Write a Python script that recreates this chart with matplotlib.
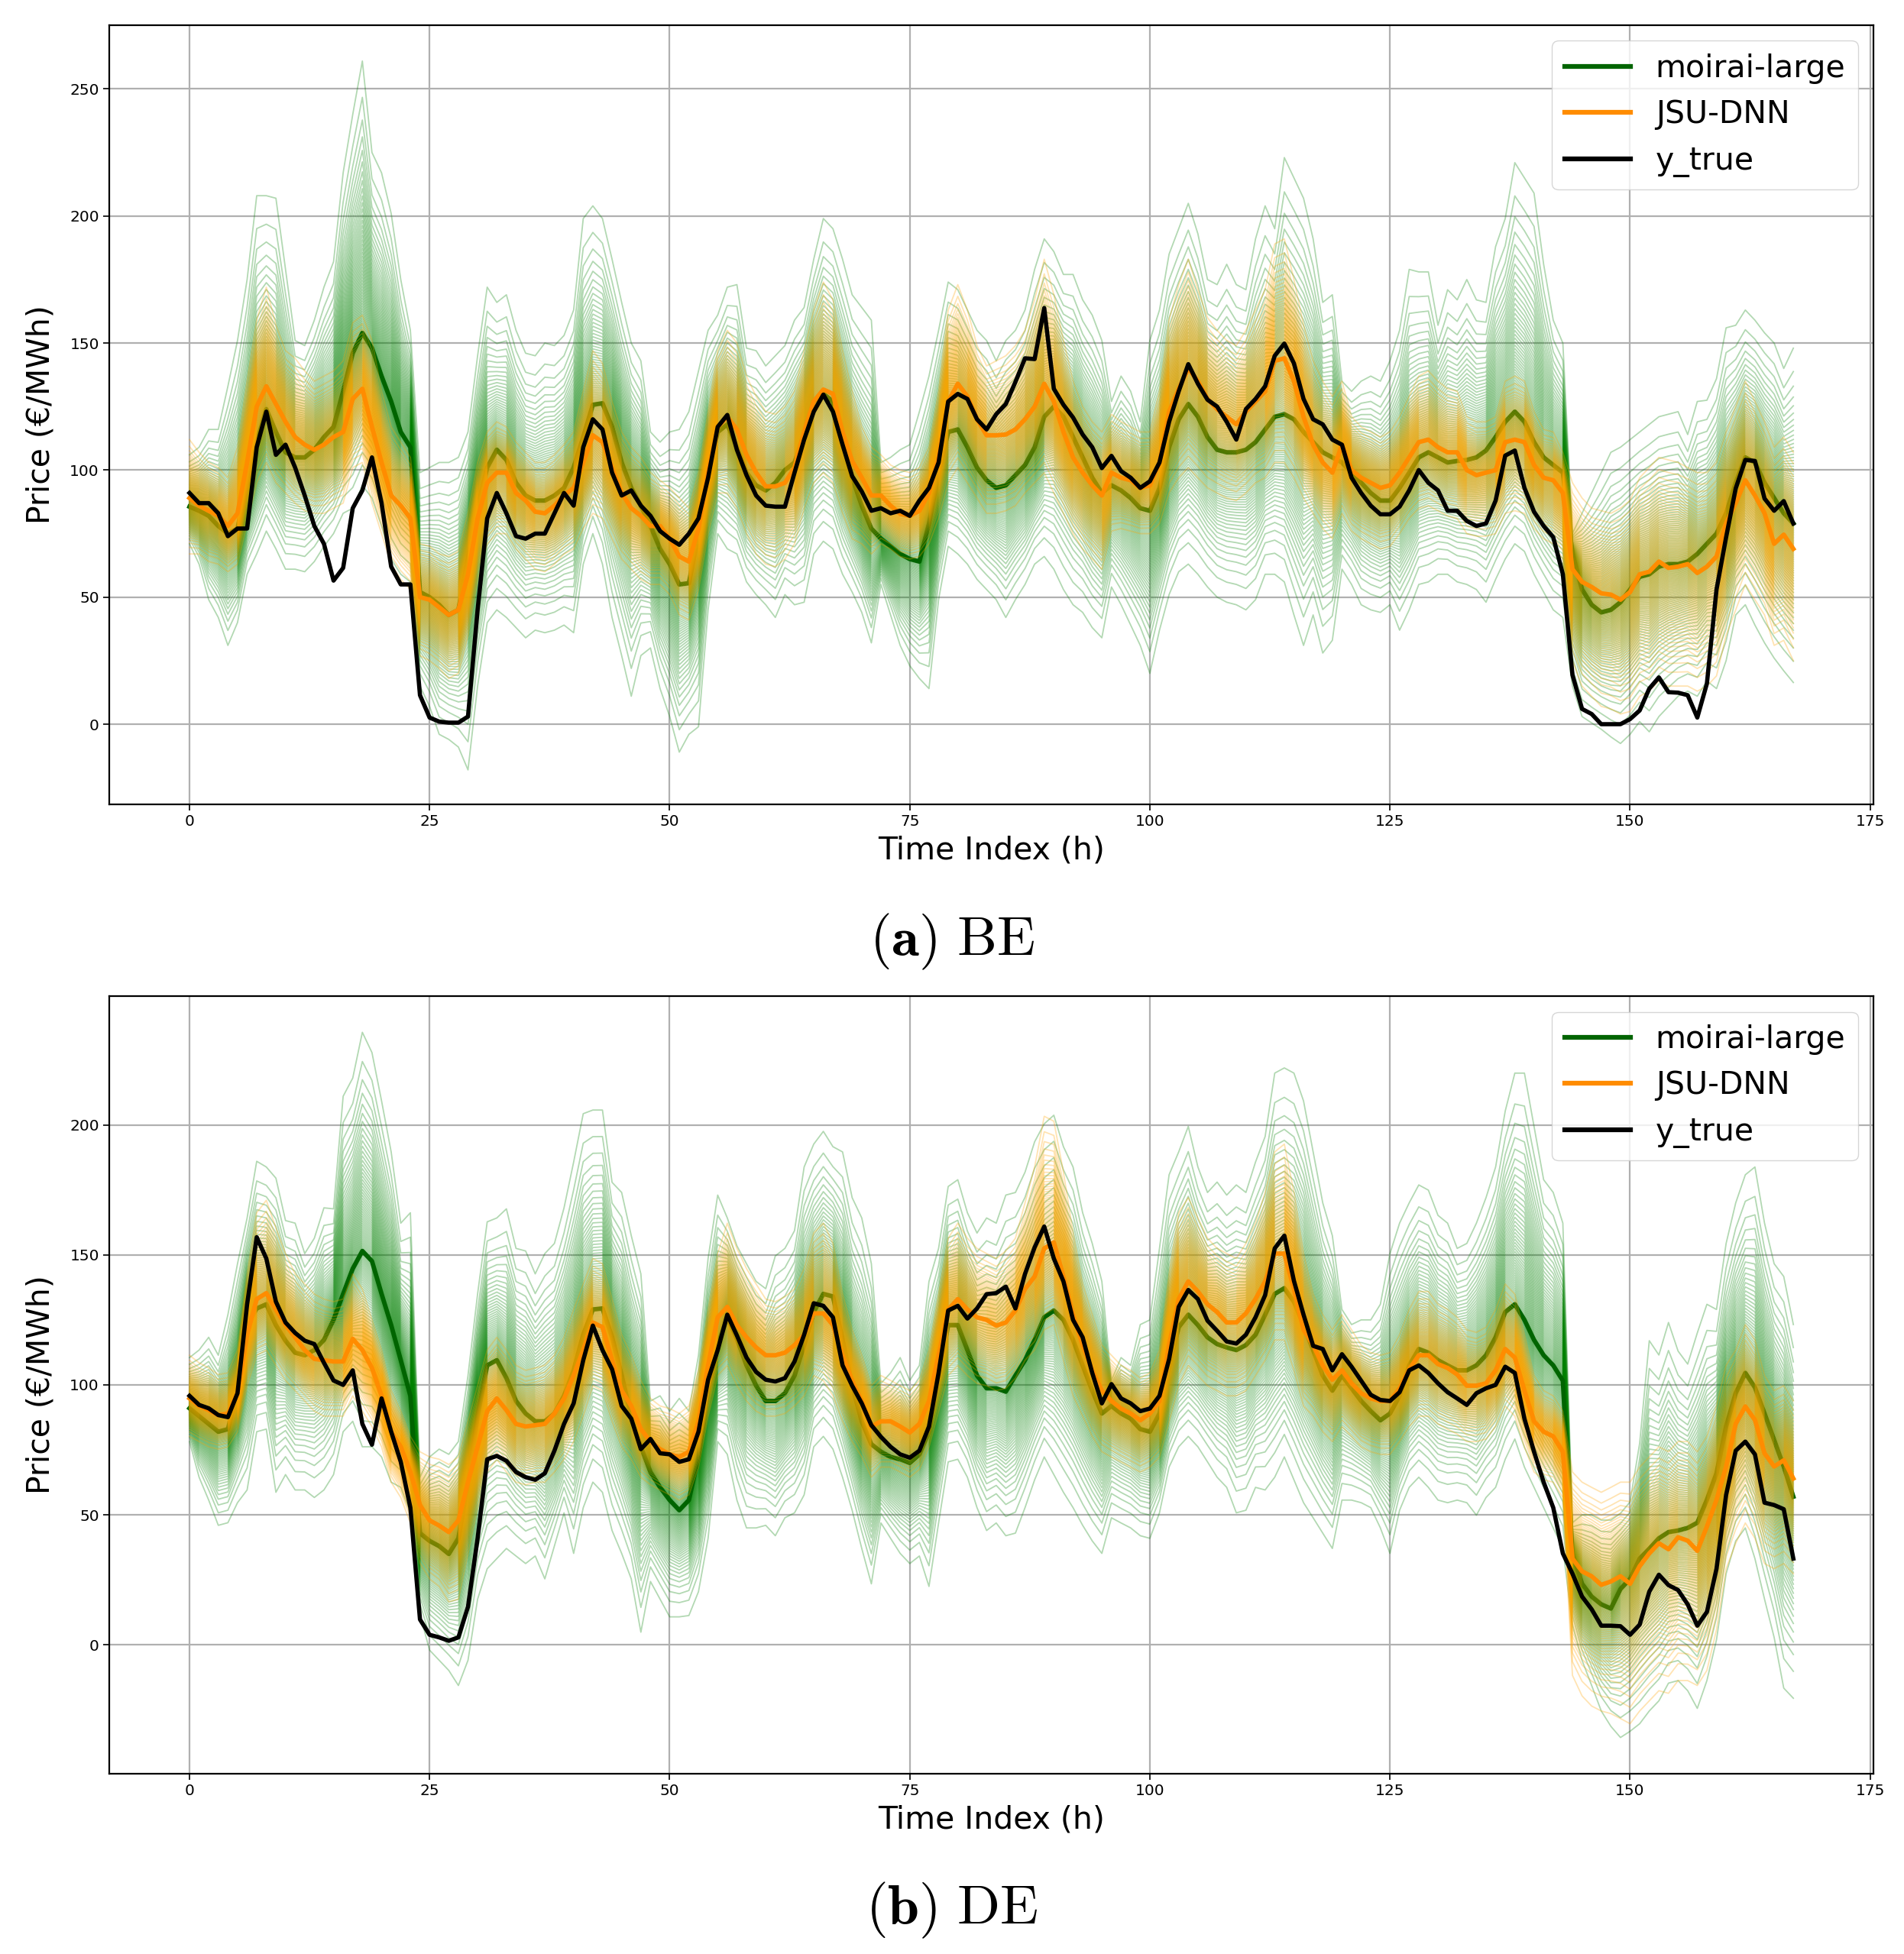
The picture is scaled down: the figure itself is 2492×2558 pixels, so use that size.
import numpy as np
import matplotlib
matplotlib.use("Agg")
import matplotlib.pyplot as plt
from statistics import NormalDist

plt.rcParams["mathtext.fontset"] = "cm"

hours = np.arange(168)

# ---------------- BE ----------------
be_true = [91, 87, 87, 83, 74, 77, 77, 109, 123, 106,
           110, 101, 90, 78, 71, 56.5, 61.5, 85, 92, 105,
           87, 62, 55, 55, 11.4, 2.6, 1, 0.6, 0.6, 3,
           45, 81, 91, 83, 74, 73, 75, 75, 83, 91,
           86, 109, 120, 116, 99, 90, 92, 86, 82, 76,
           73, 70.6, 75, 81, 97, 117, 121.7, 108, 98, 90,
           86, 85.6, 85.6, 99, 112, 123, 129.7, 123, 110, 97.6,
           91.6, 84, 85, 83, 84, 82, 88, 93, 103, 127,
           130, 128, 120, 116, 122, 126, 134.7, 144, 143.7, 163.8,
           132, 125.7, 120.7, 114, 109, 100.8, 105.6, 99.6, 97, 93,
           95.6, 103, 119, 131, 141.7, 134, 127.7, 125, 119, 112,
           124, 128, 133, 145, 149.8, 142, 128, 120, 118, 112,
           110, 97, 91, 86, 82.6, 82.6, 85.6, 92, 100, 95,
           92, 84, 84, 80, 78, 79, 88, 105.7, 107.7, 93,
           83.6, 78, 73.6, 59, 19.4, 6, 4, 0, 0, 0,
           2, 5.4, 14, 18.4, 12.6, 12.4, 11.4, 2.6, 16, 53,
           73.6, 92.8, 104, 103.6, 88.8, 84, 87.8, 79]

be_moirai_med = [85.6, 84, 82, 78, 75, 77, 95, 111, 124, 115,
                 107, 105, 105, 108, 113, 117, 131, 146, 154, 148,
                 137, 127, 115, 109, 52, 50, 47, 43, 45, 65,
                 85, 101, 108, 104, 95, 90, 88, 88, 90, 93,
                 101, 113, 125.7, 126.3, 117, 103, 93, 86, 78, 69,
                 63, 55, 55.5, 75, 99, 115, 118, 109, 99, 94,
                 92, 95, 100, 103, 114, 127, 130, 127, 111, 97,
                 86, 77, 73, 70, 67, 65, 64, 79, 99, 115,
                 116, 109, 101, 96, 93, 94, 98, 102, 109, 121,
                 125, 121, 113, 105, 97, 91, 94, 92, 89, 85,
                 84, 93, 109, 120, 126, 121, 113, 108, 107, 107,
                 108, 111, 116, 121, 122, 120, 115, 111, 107, 105,
                 103, 99, 95, 91, 88, 88, 93, 99, 105, 107,
                 105, 103, 103.6, 104, 105, 107.7, 113, 119, 123, 119,
                 111, 105, 102, 99, 67, 53, 47, 44, 45, 48,
                 53, 58, 59, 62, 63, 63, 64, 67, 71, 75,
                 83, 95, 105, 103, 95, 89, 83, 79]

be_moirai_hi = [106, 109, 116, 116, 133, 151, 175, 208, 208, 207,
                179, 151, 149, 159, 172, 182, 217, 240, 261, 225,
                217, 201, 175, 155, 99, 101, 103, 103, 105, 115,
                145, 172, 166, 169, 155, 146, 145, 150, 149, 153,
                163, 199, 204, 199, 183, 166, 150, 143, 115, 111,
                115, 116, 123, 139, 155, 161, 172, 173, 148, 147,
                141, 145, 149, 159, 164, 183, 199, 195, 183, 169,
                164, 159, 103, 105, 108, 110, 123, 137, 155, 174,
                171, 163, 155, 151, 143, 151, 155, 163, 179, 191,
                186, 177, 177, 167, 161, 151, 127, 137, 131, 119,
                151, 163, 185, 195, 205, 193, 175, 173, 181, 173,
                171, 191, 204, 195, 223, 215, 207, 191, 166, 169,
                135, 131, 135, 137, 135, 143, 155, 179, 178, 178,
                157, 171, 167, 175, 167, 166, 188, 199, 221, 215,
                209, 181, 159, 150, 75, 83, 91, 99, 107, 109,
                112, 115, 118, 121, 122, 123, 114, 127, 127.5, 136,
                156, 157, 163, 159, 154, 150, 140, 148]

be_moirai_lo = [71, 63, 49, 42, 31, 40, 59, 67, 76, 69,
                61, 61, 60, 64, 70, 75, 83, 85, 94, 89,
                78, 65, 59, 56, 15, 7, -4, -6, -9, -18,
                15, 40, 45, 42, 38, 34, 37, 36, 37, 39,
                36, 63, 75, 63, 42, 27, 11, 27, 30, 14,
                3, -11, -4, -1, 45, 75, 69, 67, 56, 51,
                47, 42, 51, 47, 48, 67, 72, 69, 59, 52,
                44, 32, 55, 43, 31, 23, 18, 14, 49, 70,
                67, 63, 57, 53, 49, 42, 49, 55, 63, 66,
                61, 53, 47, 44, 38, 34, 54, 47, 39, 31,
                20, 37, 51, 60, 63, 59, 54, 50, 48, 47,
                45, 49, 59, 59, 56, 43, 31, 43, 28, 33,
                61, 55, 47, 45, 44, 47, 37, 45, 55, 56,
                59, 59, 56, 55, 53, 48, 57, 65, 71, 68,
                59, 52, 45, 42, 15, 3, 0.5, -2, -5, -7.6,
                -4, 1, -3, 3, 7, 11, 13, 11, 17, 14,
                25, 43, 47, 39, 32, 26, 21, 16.4]

be_jsu_med = [89, 86, 84, 82, 78, 83, 103, 125, 133, 126,
              119, 113, 110, 108, 110, 113, 115, 128, 132, 117,
              103, 90, 86, 81, 50, 49, 46, 43, 45, 59,
              81, 95, 99, 99, 91, 88, 83.6, 83, 86, 90,
              93, 103, 113.7, 111, 101, 91, 85, 82, 78, 78,
              73, 66, 64, 77, 99, 117, 121, 116, 106, 99,
              93.6, 93.6, 95, 101, 115, 127, 131.7, 130, 115, 103.6,
              97, 90, 90, 86, 82.8, 82, 84, 91, 105, 127,
              134, 129, 120, 113.7, 113.7, 114, 116, 120, 125, 134,
              127, 115, 105, 99, 94, 90, 99, 97, 96, 93,
              94, 103, 123, 132, 140, 135, 128, 124, 121, 118,
              123, 127, 131, 143, 144, 135, 121, 110, 103, 99,
              110, 100, 97, 95, 93, 94, 99, 105, 111, 112,
              109, 107, 107, 100, 98, 99, 100, 111, 112, 111,
              102, 97, 96, 91, 61, 56, 54, 51.5, 51, 49,
              52, 59, 60, 64, 61.5, 62, 63, 59.5, 62, 66,
              79, 87, 96, 90, 83, 71, 74.6, 69]

be_jsu_hi = [112, 107, 103, 101, 97, 109, 135, 159, 172, 157,
             147, 144, 139, 135, 137, 139, 143, 158, 161, 151,
             131, 117, 111, 105, 71, 70, 67, 66, 68, 83,
             103, 115, 119, 117, 111, 107, 103, 103, 106, 110,
             115, 131, 147, 142, 127, 115, 109, 105, 99, 96,
             93, 89, 85, 99, 123, 147, 155, 150, 137, 129,
             123, 122, 125, 131, 147, 163, 174, 167, 147, 131,
             117, 109, 106, 102, 100, 99, 101, 109, 131, 163,
             173, 163, 149, 141, 143, 145, 149, 155, 167, 183,
             169, 151, 135, 125, 119, 115, 122, 119, 117, 115,
             115, 131, 159, 173, 183, 171, 160, 155, 151, 149,
             155, 163, 171, 189, 191, 175, 157, 143, 135, 129,
             135, 121, 117, 115, 113, 115, 121, 129, 137, 139,
             135, 132, 131, 121, 119, 119, 121, 135, 137, 135,
             123, 116, 115, 107, 95, 89, 85, 84, 83, 85,
             88, 97, 101, 105, 104, 103, 101, 99, 99, 103,
             115, 125, 135, 127, 119, 109, 113, 107]

be_jsu_lo = [67, 67, 64, 63, 60, 63, 79, 95, 103, 95,
             91, 87, 84, 83, 83, 85, 87, 101, 103, 87,
             75, 63, 57, 53, 27, 25, 22, 18, 20, 35,
             57, 71, 75, 75, 69, 65, 61, 60, 63, 67,
             69, 77, 83, 81, 73, 65, 61, 57, 55, 55,
             51, 43, 41, 53, 75, 91, 91, 85, 75, 67,
             63, 62, 65, 71, 85, 95, 99, 95, 83, 73,
             71, 67, 71, 69, 66, 65, 66, 71, 81, 95,
             101, 95, 89, 83, 83, 84, 86, 91, 95, 99,
             91, 83, 75, 69, 65, 61, 76, 77, 76, 75,
             75, 79, 91, 97, 101, 97, 93, 91, 89, 88,
             91, 95, 97, 103, 103, 97, 89, 83, 77, 73,
             83, 76, 73, 71, 69, 70, 75, 81, 85, 86,
             84, 82, 81, 75, 74, 74, 75, 83, 84, 83,
             77, 73, 71, 65, 25, 15, 11, 7, 6, 4,
             5, 11, 13, 17, 15, 15, 15, 13, 15, 19,
             35, 45, 55, 49, 43, 31, 33, 25]

# ---------------- DE ----------------
de_true = [95.8, 92.3, 91, 88.4, 87.6, 96.8, 131, 156.8, 148.6, 132,
           124, 120, 117, 115.7, 108.5, 101.7, 100, 105.6, 85, 77,
           94.8, 82, 70.4, 52.8, 9.8, 3.9, 2.9, 1.6, 2.9, 14.7,
           41, 71.4, 72.7, 70.8, 66.5, 64.5, 63.5, 66, 74.7, 85,
           92.9, 109.5, 122.8, 113.4, 106, 91.9, 87, 75.3, 79.2, 73.7,
           73.3, 70.4, 71.4, 82, 102, 113.4, 127, 119, 110.5, 105,
           102, 101.3, 102.6, 109, 119.3, 131.4, 130.4, 126, 107.5, 99.7,
           92.9, 84.5, 80, 76.2, 73.3, 72, 74.7, 84, 104.6, 128.6,
           130.4, 125.5, 129.4, 134.9, 135.3, 137.8, 129.4, 142.7, 152.9, 160.9,
           148.6, 139.8, 125, 118.3, 104.6, 92.9, 100.3, 94.8, 92.9, 89.9,
           90.9, 95.8, 109.9, 130, 136.5, 133, 124.7, 120.8, 116.7, 115.9,
           119.3, 126, 134.5, 152.5, 157.4, 140, 127, 115, 113.8, 105.6,
           111.8, 107, 101.6, 96.2, 94.2, 93.8, 97.2, 105.6, 107.5, 104.6,
           100.6, 97.2, 94.8, 92.3, 96.8, 98.7, 100, 107, 104.6, 87,
           74.3, 62.6, 52.8, 35.2, 27.4, 18.6, 13.7, 7.4, 7.4, 7.2,
           3.9, 7.8, 20.5, 27, 23, 21.1, 15.6, 7.4, 12.7, 29.3,
           57.7, 74.7, 78.2, 73.3, 54.7, 53.8, 52.2, 33.2]

de_moirai_med = [91, 88, 85, 82, 83, 98, 123, 129.4, 131, 123,
                 117, 112.4, 111.4, 113.4, 117.3, 125, 135, 144.7, 151.5, 147.6,
                 135, 123, 109.5, 95.8, 43, 40, 38, 35, 41, 62.6,
                 88, 107.5, 109.5, 102.6, 93.8, 89, 86, 86, 89, 95.8,
                 105.6, 119.3, 129, 129.4, 118.3, 103.6, 88, 76.2, 66.5, 60.6,
                 55.7, 51.8, 55.7, 72.3, 97.8, 115.3, 126, 117.7, 107.5, 99.7,
                 93.8, 93.8, 96.8, 103.6, 115.3, 128, 135, 134, 117.3, 99.7,
                 86, 77.2, 74.3, 72.3, 71.4, 70, 73.3, 82, 103.6, 123,
                 123, 113.4, 103.6, 98.7, 98.7, 97.4, 103.6, 109.5, 117.3, 126,
                 128.6, 125, 117.3, 107.5, 97.8, 89, 91.9, 89, 87, 83,
                 82, 89, 107.5, 122.2, 127, 123, 118.3, 115.7, 114.4, 113.4,
                 115.3, 119.3, 127, 135, 137.2, 132, 123, 113.4, 103.6, 97.8,
                 103.6, 98.7, 93.8, 89.9, 86.4, 89, 95.8, 107.5, 113.8, 112.4,
                 109.5, 107.5, 105.6, 105.6, 107.5, 111.4, 118.3, 128, 131, 125,
                 117.3, 111.4, 107.5, 101.6, 35.2, 23.5, 18.6, 15.6, 14, 21.5,
                 25.4, 33.2, 37, 41, 43.4, 44, 45, 47, 55.8, 66,
                 84, 96.8, 104.6, 99, 89, 78.8, 68.6, 57]

de_moirai_hi = [110.5, 113.4, 118.3, 111.4, 127, 146.6, 164.2, 186, 183.8, 179.5,
                163.2, 162.2, 150.5, 156.4, 168.1, 167.7, 211, 218, 235.6, 227.8,
                209.2, 189.6, 162.2, 166.2, 64.5, 72.3, 75.3, 73.3, 78.2, 103.6,
                135, 162.7, 164.2, 167.7, 152.5, 151.5, 142.7, 150.5, 154.4, 168.1,
                185.7, 204.3, 205.7, 205.7, 177.9, 174, 157.4, 142.7, 93.8, 95.8,
                89.9, 94.8, 89.9, 111.4, 148.6, 173, 164.2, 153.5, 146.6, 139.8,
                137, 149.6, 152.5, 159.3, 183.8, 192.6, 197.5, 191.6, 189.6, 172,
                164.2, 146.6, 100.6, 104.6, 110.5, 101.7, 107.5, 139.8, 152.5, 176.3,
                178.9, 166.2, 158.4, 164.2, 162.2, 173, 174, 181.8, 193.5, 200.4,
                203.7, 191.6, 183.8, 166.2, 154.4, 139.8, 101.7, 110.5, 107.5, 123.2,
                125, 152.5, 180.8, 189.6, 199.4, 183.8, 174, 178, 173, 176.9,
                174, 185.7, 195.5, 219.9, 221.9, 219.9, 209.2, 189.6, 170, 157.4,
                129, 123.2, 125, 125, 131, 150.5, 162.2, 170, 176.9, 174.9,
                165.2, 162.2, 152.5, 154.4, 162.2, 172, 183.8, 205.3, 219.9, 219.9,
                199.4, 178.9, 174, 162.2, 47, 50, 50, 48, 48, 50.6,
                55, 77.6, 117, 111.5, 124, 113, 108, 120, 131, 129,
                154.4, 170, 180.8, 183.8, 162.2, 146.6, 141.7, 123.2]

de_moirai_lo = [78.2, 64.5, 55.7, 46, 47, 54.7, 59.6, 82, 83, 58.7,
                65.5, 59.6, 59.6, 56.7, 59.6, 65.5, 82, 86, 76.2, 76.2,
                72.3, 62.6, 60.6, 50.8, 11.7, -2, -5.9, -9.8, -15.6, -5.9,
                17.6, 29.3, 33.2, 37.1, 34.2, 31.3, 34.2, 25.4, 38.1, 50.8,
                35.2, 52.8, 62.6, 58.7, 44, 35.2, 25.4, 4.9, 24.4, 17.6,
                10.8, 10.8, 11.3, 20.5, 41, 78.2, 73.3, 55.7, 45, 45,
                46, 42, 48.9, 50.8, 57.7, 76.2, 80.2, 75.3, 64.5, 51.8,
                37.1, 23.5, 46.9, 41, 35.2, 31.3, 34.2, 22.5, 46.9, 70.4,
                71.4, 64.5, 52.8, 44, 46.9, 42, 43, 52.8, 63.5, 72.3,
                65.5, 58.7, 52.8, 46, 40, 35.2, 48.9, 46.9, 45, 42,
                41, 50.8, 68.4, 76.2, 80.2, 76.2, 70.4, 64.5, 60.6, 50.8,
                51.8, 60.6, 59.6, 64.5, 72.3, 63.5, 54.7, 48.9, 43, 37.1,
                55.7, 55.7, 54.7, 52.8, 45, 35.2, 51.8, 60.6, 64.5, 60.6,
                55.7, 54.7, 55.7, 54.7, 49.9, 56.7, 60.6, 71.4, 79.2, 68.4,
                60.6, 52.8, 45, 37.1, 7.8, -5.9, -15.6, -25.4, -31.3, -35.6,
                -33.2, -30.3, -25.4, -21.5, -14.7, -13.7, -17.6, -24.4, -13.7, 2,
                27.4, 40, 45, 33.2, 17.6, 2.9, -16.6, -20.5]

de_jsu_med = [94.8, 91.9, 90.3, 88.4, 89, 96.8, 119.3, 133, 135.3, 129,
              123, 118.3, 113.4, 110, 109.5, 109, 109, 117.7, 113.4, 106.5,
              95.8, 82, 76.2, 66.5, 53.8, 47.9, 45.9, 43.4, 47.9, 62.6,
              76.2, 89.9, 94.8, 90.3, 85, 84, 84.5, 85, 89, 94.8,
              103.6, 113.4, 124, 122.2, 109.5, 97.8, 91.9, 83, 78.2, 75.3,
              73.3, 72.3, 74.3, 86, 107.5, 126, 130, 123, 118.3, 114.4,
              111.4, 111.4, 112.4, 115.3, 119.3, 127.5, 127.5, 123, 111.4, 101.6,
              93.8, 84, 86, 86, 84, 81.7, 85, 93.8, 111.4, 129,
              133, 129, 126, 125, 122.8, 124, 128.6, 136.9, 141.7, 152.5,
              154.8, 141.7, 127, 115.3, 105.6, 97.8, 93.8, 90.9, 89, 86.4,
              89, 93.8, 115.3, 133, 139.8, 135.9, 131, 128, 124, 124,
              127.5, 133, 139.8, 150.5, 150.5, 136.9, 121.2, 115.3, 107.5, 102,
              105.6, 100.6, 96.8, 94.8, 93.8, 93.8, 98.7, 106, 111.4, 111.4,
              108, 106.5, 104, 99.7, 99.7, 100.6, 105.6, 113.8, 110.5, 97.8,
              86, 82, 80.2, 74.3, 33.2, 28.3, 26.4, 23.1, 24.4, 26.4,
              23.5, 30.3, 35.2, 39.1, 36.8, 41.4, 40.1, 36.2, 45.5, 55.8,
              68.6, 85, 91.7, 86.5, 73.7, 68.6, 71, 64]

de_jsu_hi = [111.4, 108.5, 106.5, 104, 104.6, 113.4, 142.7, 166.2, 171, 160.3,
             150.5, 142.7, 138.8, 134.9, 133, 132, 133, 142.7, 136.9, 125,
             113.4, 97.8, 89.9, 80.2, 74.3, 72.3, 71.4, 69.4, 72.3, 86,
             99.7, 113.4, 118.3, 113.4, 107.5, 105.6, 106.5, 107.5, 111.4, 118.3,
             129, 138.8, 148.6, 146.6, 133, 119.3, 111.4, 101.7, 94.8, 91.9,
             90.9, 89, 91.9, 105.6, 129, 150.5, 162.2, 152.5, 144.7, 138.8,
             133, 132, 133.9, 136.9, 144.7, 158.4, 162.2, 154.4, 134.9, 121.2,
             111.4, 99.7, 103.6, 101.7, 99.7, 97.8, 101.7, 113.4, 134.9, 156.4,
             162.2, 156.4, 152.5, 150.5, 148.6, 151.5, 156.4, 170, 183.8, 203.3,
             201.4, 181.8, 158.4, 138.8, 127, 115.3, 111.4, 107.5, 105.6, 102.6,
             104.6, 113.4, 142.7, 166.2, 172, 164.2, 156.4, 152.5, 150.5, 148.6,
             154.4, 162.2, 174, 189.6, 192.6, 174, 150.5, 134.9, 127, 121.2,
             127, 121.2, 115.3, 112.4, 111.4, 112.4, 119.3, 129, 135.9, 135.9,
             131, 129, 126, 121.2, 120.2, 122.2, 129, 138.8, 134.9, 119.3,
             103.6, 97.8, 95.8, 89.9, 66.5, 62.6, 60.6, 58.7, 60.6, 62.6,
             62.6, 68.4, 72.3, 76.2, 74.3, 78.2, 78.2, 74.3, 80.2, 91.9,
             107.5, 113.4, 123.2, 117.3, 103.6, 97.8, 99.7, 93.8]

de_jsu_lo = [80.2, 78.2, 76.2, 75.3, 76.2, 82, 99.7, 111.4, 113.4, 107.5,
             101.7, 97.8, 93.8, 89.9, 88, 88, 88, 95.8, 89.9, 84,
             76.2, 62.6, 56.7, 46.9, 31.3, 25.4, 22.5, 16.6, 17.6, 35.2,
             52.8, 66.5, 71.4, 66.5, 62.6, 61.6, 62.6, 62.6, 66.5, 71.4,
             78.2, 88, 99.7, 97.8, 86, 76.2, 71.4, 64.5, 61.6, 59.6,
             57.7, 55.7, 57.7, 68.4, 88, 103.6, 107.5, 99.7, 93.8, 89.9,
             88, 88, 89, 91.9, 95.8, 103.6, 101.7, 95.8, 86, 78.2,
             72.3, 64.5, 68.4, 68.4, 66.5, 64.5, 67.5, 76.2, 89.9, 103.6,
             107.5, 103.6, 100.6, 99.7, 97.8, 98.7, 102.6, 109.5, 113.4, 121.2,
             123.2, 109.5, 95.8, 88, 80.2, 74.3, 72.3, 70.4, 68.4, 66.5,
             68.4, 72.3, 86, 99.7, 107.5, 103.6, 99.7, 97.8, 95.8, 95.8,
             97.8, 103.6, 109.5, 117.3, 117.3, 105.6, 91.9, 88, 82, 78.2,
             84, 80.2, 76.2, 74.3, 73.3, 73.3, 78.2, 84, 88, 88,
             85, 83, 81.1, 78.2, 78.2, 79.2, 84, 91.9, 88, 76.2,
             66.5, 63.5, 62.6, 56.7, -11.7, -19.6, -23.5, -25.4, -26.4, -28.3,
             -30.3, -25.4, -21.5, -17.6, -18.6, -13.7, -13.7, -15.6, -9.8, 5.9,
             29.3, 39.1, 46.9, 41, 31.3, 29.3, 31.3, 27.4]

quantile_levels = [round(0.01 * k, 2) for k in range(1, 100)]
x_ticks = [0, 25, 50, 75, 100, 125, 150, 175]
be_yticks = [0, 50, 100, 150, 200, 250]
de_yticks = [0, 50, 100, 150, 200]

_nd = NormalDist()
_zmax = _nd.inv_cdf(0.99)


def quantile_paths(med, lo, hi, power):
    med = np.asarray(med, float)
    up = np.maximum(np.asarray(hi, float) - med, 0)
    dn = np.maximum(med - np.asarray(lo, float), 0)
    paths = []
    for q in quantile_levels:
        z = _nd.inv_cdf(q) / _zmax
        f = abs(z) ** power
        paths.append(med + f * up if z >= 0 else med - f * dn)
    return paths


def draw_panel(ax, y_true, m_med, m_lo, m_hi, j_med, j_lo, j_hi, yticks, ylim):
    for p in quantile_paths(m_med, m_lo, m_hi, 1.15):
        ax.plot(hours, p, color="green", alpha=0.3, lw=1.3, zorder=2)
    ax.plot(hours, m_med, color="darkgreen", lw=4.2, zorder=3, label="moirai-large")
    for p in quantile_paths(j_med, j_lo, j_hi, 1.0):
        ax.plot(hours, p, color="orange", alpha=0.3, lw=1.3, zorder=4)
    ax.plot(hours, j_med, color="darkorange", lw=4.2, zorder=5, label="JSU-DNN")
    ax.plot(hours, y_true, color="black", lw=4.0, zorder=6, label="y_true")
    ax.set_xticks(x_ticks)
    ax.set_yticks(yticks)
    ax.set_xlim(-8.35, 175.35)
    ax.set_ylim(*ylim)
    ax.tick_params(labelsize=14.5, length=6, width=1.2)
    ax.grid(True, color="#b0b0b0", lw=1.6)
    ax.set_axisbelow(True)
    for s in ax.spines.values():
        s.set_linewidth(1.6)
    ax.set_xlabel("Time Index (h)", fontsize=29.5, labelpad=6)
    ax.set_ylabel("Price (€/MWh)", fontsize=29.5, labelpad=13)
    leg = ax.legend(loc="upper right", fontsize=29.5, handlelength=2.1)
    for line in leg.get_lines():
        line.set_linewidth(4.5)


fig = plt.figure(figsize=(24.92, 25.58), dpi=100)
ax1 = fig.add_axes([0.0574, 0.5883, 0.9266, 0.3988])
ax2 = fig.add_axes([0.0574, 0.0923, 0.9266, 0.3979])

draw_panel(ax1, be_true, be_moirai_med, be_moirai_lo, be_moirai_hi,
           be_jsu_med, be_jsu_lo, be_jsu_hi, be_yticks, (-31.6, 275.1))
draw_panel(ax2, de_true, de_moirai_med, de_moirai_lo, de_moirai_hi,
           de_jsu_med, de_jsu_lo, de_jsu_hi, de_yticks, (-49.5, 249.5))

fig.text(0.5, 1 - 1233 / 2558, r"$(\mathbf{a})\ \mathrm{BE}$", fontsize=53,
         ha="center", va="center")
fig.text(0.5, 1 - 2501 / 2558, r"$(\mathbf{b})\ \mathrm{DE}$", fontsize=53,
         ha="center", va="center")

fig.savefig("out.png", dpi=100)
